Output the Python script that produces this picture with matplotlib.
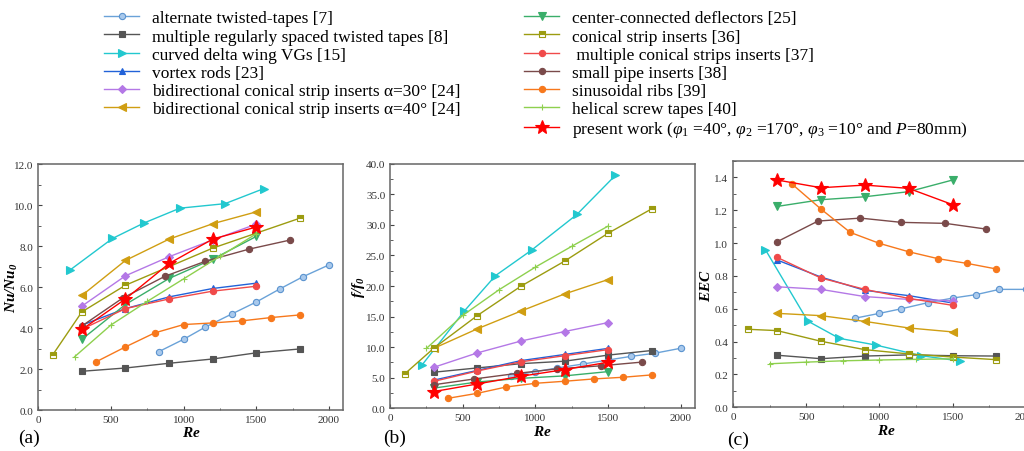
import matplotlib
matplotlib.use("Agg")
import matplotlib.pyplot as plt
from matplotlib.ticker import MultipleLocator, FormatStrFormatter

plt.rcParams["font.family"] = "serif"
plt.rcParams["font.serif"] = ["Liberation Serif", "DejaVu Serif"]
plt.rcParams["mathtext.fontset"] = "custom"
plt.rcParams["mathtext.rm"] = "Liberation Serif"
plt.rcParams["mathtext.it"] = "Liberation Serif:italic"
plt.rcParams["mathtext.bf"] = "Liberation Serif:bold:italic"

# alternate twisted-tapes [7]
RE_ATT = [830, 1000, 1150, 1330, 1500, 1660, 1820, 2000]
NU_ATT = [2.85, 3.45, 4.05, 4.68, 5.27, 5.9, 6.5, 7.08]
F_ATT = [5.3, 6.0, 6.6, 7.25, 7.9, 8.5, 9.0, 9.82]
EEC_ATT = [0.542, 0.572, 0.600, 0.637, 0.665, 0.686, 0.718, 0.718]

# multiple regularly spaced twisted tapes [8]
RE_MRS = [300, 600, 900, 1200, 1500, 1800]
NU_MRS = [1.89, 2.05, 2.28, 2.49, 2.79, 2.98]
F_MRS = [5.9, 6.6, 7.3, 7.7, 8.7, 9.45]
EEC_MRS = [0.317, 0.296, 0.312, 0.319, 0.314, 0.312]

# curved delta wing VGs [15]
RE_CDW = [220, 510, 725, 975, 1285, 1550]
NU_CDW = [6.84, 8.37, 9.12, 9.85, 10.07, 10.8]
F_CDW = [7.1, 15.9, 21.7, 25.9, 31.7, 38.1]
EEC_CDW = [0.96, 0.525, 0.42, 0.379, 0.314, 0.282]

RE_STD = [300, 600, 900, 1200, 1500]

# vortex rods [23]
NU_VR = [4.14, 4.95, 5.52, 5.93, 6.19]
F_VR = [4.6, 6.2, 7.8, 8.8, 9.8]
EEC_VR = [0.897, 0.793, 0.712, 0.68, 0.635]

# bidirectional conical strip inserts 30 / 40 deg [24]
NU_B30 = [5.07, 6.55, 7.48, 8.3, 9.07]
F_B30 = [6.7, 9.06, 11.0, 12.55, 14.02]
EEC_B30 = [0.734, 0.718, 0.674, 0.657, 0.649]
NU_B40 = [5.59, 7.3, 8.34, 9.09, 9.67]
F_B40 = [9.8, 13.0, 15.9, 18.7, 21.06]
EEC_B40 = [0.572, 0.558, 0.523, 0.483, 0.459]

# center-connected deflectors [25]
NU_CCD = [3.45, 5.15, 6.42, 7.36, 8.47]
F_CCD = [3.3, 4.3, 4.9, 5.3, 6.0]
EEC_CCD = [1.223, 1.264, 1.282, 1.313, 1.384]

# conical strip inserts [36]
RE_CSI_A = [100, 300, 600, 1200, 1800]
NU_CSI = [2.7, 4.79, 6.09, 7.9, 9.36]
RE_CSI = [100, 300, 600, 900, 1200, 1500, 1800]
F_CSI = [5.62, 9.82, 15.17, 19.97, 24.06, 28.64, 32.62]
EEC_CSI = [0.475, 0.467, 0.402, 0.351, 0.325, 0.306, 0.29]

# multiple conical strips inserts [37]
NU_MCS = [3.94, 4.95, 5.42, 5.8, 6.04]
F_MCS = [4.4, 6.1, 7.6, 8.6, 9.6]
EEC_MCS = [0.913, 0.787, 0.718, 0.663, 0.621]

# small pipe inserts [38]
RE_SPI = [300, 580, 870, 1150, 1450, 1730]
NU_SPI = [4.1, 5.46, 6.52, 7.26, 7.85, 8.29]
F_SPI = [3.85, 4.8, 5.7, 6.45, 6.95, 7.55]
EEC_SPI = [1.008, 1.134, 1.152, 1.126, 1.12, 1.085]

# sinusoidal ribs [39]
RE_SR = [400, 600, 800, 1000, 1200, 1400, 1600, 1800]
NU_SR = [2.36, 3.08, 3.76, 4.17, 4.25, 4.35, 4.51, 4.64]
F_SR = [1.64, 2.45, 3.49, 4.09, 4.42, 4.8, 5.07, 5.46]
EEC_SR = [1.361, 1.207, 1.065, 0.998, 0.947, 0.905, 0.876, 0.842]

# helical screw tapes [40]
RE_HST = [250, 500, 750, 1000, 1250, 1500]
NU_HST = [2.6, 4.15, 5.3, 6.4, 7.5, 8.6]
F_HST = [9.8, 15.2, 19.4, 23.1, 26.5, 29.8]
EEC_HST = [0.265, 0.275, 0.283, 0.288, 0.292, 0.295]

# present work
NU_PW = [3.93, 5.42, 7.15, 8.34, 8.93]
F_PW = [2.73, 3.98, 5.24, 6.33, 7.53]
EEC_PW = [1.384, 1.337, 1.353, 1.333, 1.234]

SERIES = [
    ("alternate twisted-tapes [7]", "#6aa2d8", "o", 4.5,
     (RE_ATT, NU_ATT), (RE_ATT, F_ATT), (RE_ATT, EEC_ATT)),
    ("multiple regularly spaced twisted tapes [8]", "#555555", "s", 4.5,
     (RE_MRS, NU_MRS), (RE_MRS, F_MRS), (RE_MRS, EEC_MRS)),
    ("curved delta wing VGs [15]", "#22c8cf", ">", 5.5,
     (RE_CDW, NU_CDW), (RE_CDW, F_CDW), (RE_CDW, EEC_CDW)),
    ("vortex rods [23]", "#2262d8", "^", 5,
     (RE_STD, NU_VR), (RE_STD, F_VR), (RE_STD, EEC_VR)),
    ("bidirectional conical strip inserts α=30° [24]", "#b478e6", "D", 4.5,
     (RE_STD, NU_B30), (RE_STD, F_B30), (RE_STD, EEC_B30)),
    ("bidirectional conical strip inserts α=40° [24]", "#d09e12", "<", 5.5,
     (RE_STD, NU_B40), (RE_STD, F_B40), (RE_STD, EEC_B40)),
    ("center-connected deflectors [25]", "#3aae6a", "v", 5.5,
     (RE_STD, NU_CCD), (RE_STD, F_CCD), (RE_STD, EEC_CCD)),
    ("conical strip inserts [36]", "#9c9c10", "s", 4.5,
     (RE_CSI_A, NU_CSI), (RE_CSI, F_CSI), (RE_CSI, EEC_CSI)),
    (" multiple conical strips inserts [37]", "#f04a4a", "o", 4.5,
     (RE_STD, NU_MCS), (RE_STD, F_MCS), (RE_STD, EEC_MCS)),
    ("small pipe inserts [38]", "#7a4a4a", "o", 4.5,
     (RE_SPI, NU_SPI), (RE_SPI, F_SPI), (RE_SPI, EEC_SPI)),
    ("sinusoidal ribs [39]", "#f7781c", "o", 4.5,
     (RE_SR, NU_SR), (RE_SR, F_SR), (RE_SR, EEC_SR)),
    ("helical screw tapes [40]", "#8ed04e", "+", 4.5,
     (RE_HST, NU_HST), (RE_HST, F_HST), (RE_HST, EEC_HST)),
    (r"present work ($\varphi_{\mathit{1}}$ =40°, $\varphi_{\mathit{2}}$ =170°, "
     r"$\varphi_{\mathit{3}}$ =10° and $P$=80mm)", "#ff0000", "*", 10,
     (RE_STD, NU_PW), (RE_STD, F_PW), (RE_STD, EEC_PW)),
]


def _draw(ax, idx):
    handles = []
    for label, color, marker, ms, *panels in SERIES:
        x, y = panels[idx]
        kw = dict(color=color, marker=marker, markersize=ms, linewidth=1.0,
                  markeredgewidth=0.8, label=label)
        if label.startswith("conical strip"):
            kw.update(fillstyle="top", markerfacecoloralt="white")
        if label.startswith("alternate"):
            kw.update(markerfacecolor="#a9c9ec", markeredgecolor="#5b93cf")
        (ln,) = ax.plot(x, y, **kw)
        handles.append(ln)
    return handles


def _style(ax, ymax, ymajor, fmt, ylabel, ylab_x):
    ax.set_xlim(0, 2100)
    ax.set_ylim(0, ymax)
    ax.xaxis.set_major_locator(MultipleLocator(500))
    ax.xaxis.set_minor_locator(MultipleLocator(250))
    ax.yaxis.set_major_locator(MultipleLocator(ymajor))
    ax.yaxis.set_minor_locator(MultipleLocator(ymajor / 2))
    ax.yaxis.set_major_formatter(FormatStrFormatter(fmt))
    ax.tick_params(which="both", direction="in", labelsize=8, colors="#444444",
                   labelcolor="#333333", top=False, right=False)
    ax.tick_params(which="major", length=3)
    ax.tick_params(which="minor", length=1.8)
    for sp in ax.spines.values():
        sp.set_color("#666666")
        sp.set_linewidth(1.1)
    ax.set_xlabel(r"$\mathbf{Re}$", fontsize=11, labelpad=1)
    ax.set_ylabel(ylabel, fontsize=11)
    ax.yaxis.set_label_coords(ylab_x, 0.5)


fig = plt.figure(figsize=(10.24, 4.52), dpi=100)
ax_a = fig.add_axes([0.0374, 0.0907, 0.298, 0.544])
ax_b = fig.add_axes([0.381, 0.0945, 0.298, 0.541])
ax_c = fig.add_axes([0.716, 0.0967, 0.300, 0.545])

handles = _draw(ax_a, 0)
_draw(ax_b, 1)
_draw(ax_c, 2)

_style(ax_a, 12, 2.0, "%.1f", r"$\mathbf{Nu/Nu_0}$", -0.06)
_style(ax_b, 40, 5.0, "%.1f", r"$\mathbf{f/f_0}$", -0.075)
_style(ax_c, 1.5, 0.2, "%.1f", r"$\mathbf{EEC}$", -0.066)

leg_kw = dict(frameon=False, fontsize=12.5, handlelength=2.0, handletextpad=0.75,
              labelspacing=0.11, borderpad=0, borderaxespad=0, loc="upper left")
fig.legend(handles[:6], [h.get_label() for h in handles[:6]],
           bbox_to_anchor=(0.102, 0.975), **leg_kw)
fig.legend(handles[6:], [h.get_label() for h in handles[6:]],
           bbox_to_anchor=(0.512, 0.975), **leg_kw)

fig.text(0.018, 0.02, "(a)", fontsize=14)
fig.text(0.374, 0.02, "(b)", fontsize=14)
fig.text(0.710, 0.015, "(c)", fontsize=14)

fig.savefig("out.png", dpi=100)
